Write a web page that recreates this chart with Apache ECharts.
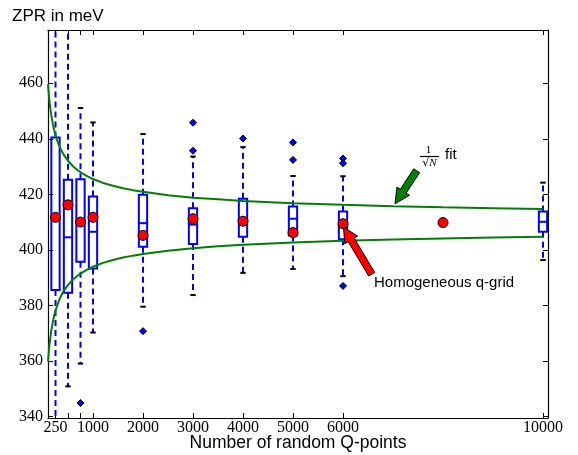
<!DOCTYPE html>
<html><head><meta charset="utf-8">
<script src="https://cdn.jsdelivr.net/npm/echarts@6/dist/echarts.min.js"></script>
<style>html,body{margin:0;padding:0;background:#fff}#c{width:578px;height:455px}</style>
</head><body><div id="c"></div>
<script>
// ---- data ----
const qPoints     = [250, 500, 750, 1000, 2000, 3000, 4000, 5000, 6000, 10000];
const whiskerLow  = [330.0, 350.8, 359.0, 370.2, 379.5, 383.7, 391.7, 393.1, 390.5, 396.3];
const quart1      = [385.5, 384.5, 395.7, 393.3, 401.1, 402.1, 404.7, 405.2, 403.8, 406.5];
const medians     = [411.5, 404.5, 410.0, 406.5, 409.6, 409.1, 410.3, 411.2, 409.4, 410.1];
const quart3      = [440.5, 425.2, 425.4, 419.2, 419.8, 415.0, 418.4, 415.6, 413.8, 413.8];
const whiskerHigh = [495.0, 490.0, 451.1, 445.9, 441.7, 433.6, 437.0, 426.6, 426.5, 424.2];

const outlierQ    = [750, 2000, 3000, 3000, 4000, 5000, 5000, 6000, 6000, 6000];
const outlierZPR  = [344.8, 370.7, 445.8, 435.7, 440.1, 438.7, 432.4, 432.9, 431.2, 387.0];

const meanQ       = [250, 500, 750, 1000, 2000, 3000, 4000, 5000, 6000];
const meanZPR     = [411.7, 416.2, 410.0, 411.7, 405.2, 411.2, 410.3, 406.2, 409.4];

const gridQ       = [8000];
const gridZPR     = [409.8];

const fitQ     = [100, 110, 120, 130, 140, 150, 165, 180, 200, 225, 250, 275, 300, 350, 400, 450, 500, 600, 700, 800, 900, 1000, 1200, 1400, 1600, 1800, 2000, 2500, 3000, 3500, 4000, 5000, 6000, 7000, 8000, 9000, 10000];
const fitUpper = [459.7, 457.4, 455.3, 453.6, 452.0, 450.5, 448.6, 447.0, 445.1, 443.0, 441.3, 439.9, 438.6, 436.4, 434.7, 433.3, 432.1, 430.1, 428.6, 427.4, 426.4, 425.5, 424.1, 423.1, 422.2, 421.5, 420.9, 419.7, 418.8, 418.2, 417.6, 416.8, 416.2, 415.7, 415.3, 415.0, 414.7];
const fitLower = [359.7, 362.0, 364.1, 365.9, 367.4, 368.9, 370.8, 372.4, 374.3, 376.4, 378.1, 379.5, 380.8, 383.0, 384.7, 386.1, 387.3, 389.3, 390.8, 392.0, 393.0, 393.9, 395.3, 396.3, 397.2, 397.9, 398.5, 399.7, 400.6, 401.3, 401.8, 402.6, 403.3, 403.7, 404.1, 404.4, 404.7];

const xTickValues = [250, 500, 750, 1000, 2000, 3000, 4000, 5000, 6000, 10000];
const xTickLabels = [250, 1000, 2000, 3000, 4000, 5000, 6000, 10000];
const yTickValues = [340, 360, 380, 400, 420, 440, 460];

// annotation arrows in data coordinates [from, to]
const fitArrow  = [[7474, 428.5], [7040, 416.6]];
const gridArrow = [[6574, 391.2], [6010, 408.2]];

// ---- chart ----
const BOX_W = 166, CAP_W = 108;
const BLUE = '#0000ff', GREEN = '#008000', RED = '#ff0000';
const chart = echarts.init(document.getElementById('c'), null, {renderer: 'canvas'});

function axisX(pos, labels) {
  return {
    type: 'value', min: 100, max: 10100, position: pos,
    axisLine: {show: true, onZero: false, lineStyle: {color: '#000', width: 1.2}},
    axisTick: {show: true, inside: true, length: 5, customValues: xTickValues, lineStyle: {color: '#000', width: 1}},
    axisLabel: labels ? {customValues: xTickLabels, formatter: v => String(v), fontFamily: 'Liberation Serif', fontSize: 16, color: '#000', margin: 2} : {show: false},
    splitLine: {show: false}
  };
}
function axisY(pos, labels) {
  return {
    type: 'value', min: 339.4, max: 479.2, position: pos,
    axisLine: {show: true, onZero: false, lineStyle: {color: '#000', width: 1.2}},
    axisTick: {show: true, inside: true, length: 5, customValues: yTickValues, lineStyle: {color: '#000', width: 1}},
    axisLabel: labels ? {customValues: yTickValues, formatter: v => String(v), fontFamily: 'Liberation Serif', fontSize: 16, color: '#000', margin: 5} : {show: false},
    splitLine: {show: false}
  };
}

function renderBox(params, api) {
  const x = api.value(0);
  const pLo = api.coord([x, api.value(1)]);
  const pQ1 = api.coord([x, api.value(2)]);
  const pMd = api.coord([x, api.value(3)]);
  const pQ3 = api.coord([x, api.value(4)]);
  const pHi = api.coord([x, api.value(5)]);
  const hw = api.size([BOX_W, 0])[0] / 2;
  const cw = api.size([CAP_W, 0])[0] / 2;
  const cx = pMd[0];
  const dash = {stroke: BLUE, lineWidth: 2, lineDash: [6, 4]};
  const cap = {stroke: '#000', lineWidth: 2};
  return {
    type: 'group',
    children: [
      {type: 'line', shape: {x1: cx, y1: pQ1[1], x2: cx, y2: pLo[1]}, style: dash},
      {type: 'line', shape: {x1: cx, y1: pQ3[1], x2: cx, y2: pHi[1]}, style: dash},
      {type: 'line', shape: {x1: cx - cw, y1: pLo[1], x2: cx + cw, y2: pLo[1]}, style: cap},
      {type: 'line', shape: {x1: cx - cw, y1: pHi[1], x2: cx + cw, y2: pHi[1]}, style: cap},
      {type: 'rect', shape: {x: cx - hw, y: pQ3[1], width: 2 * hw, height: pQ1[1] - pQ3[1]}, style: {stroke: BLUE, lineWidth: 2, fill: 'transparent'}},
      {type: 'line', shape: {x1: cx - hw, y1: pMd[1], x2: cx + hw, y2: pMd[1]}, style: {stroke: BLUE, lineWidth: 2}}
    ]
  };
}

const option = {
  animation: false,
  backgroundColor: '#fff',
  grid: {left: 48, right: 30, top: 30, bottom: 37, containLabel: false},
  xAxis: [axisX('bottom', true), axisX('top', false)],
  yAxis: [axisY('left', true), axisY('right', false)],
  series: [
    {
      type: 'custom', name: 'boxes', xAxisIndex: 0, yAxisIndex: 0, clip: true, z: 2,
      encode: {x: 0, y: [1, 2, 3, 4, 5]},
      data: qPoints.map((q, i) => [q, whiskerLow[i], quart1[i], medians[i], quart3[i], whiskerHigh[i]]),
      renderItem: renderBox
    },
    {
      type: 'line', name: 'fit+', z: 3, showSymbol: false, smooth: false,
      lineStyle: {color: GREEN, width: 2}, data: fitQ.map((q, i) => [q, fitUpper[i]])
    },
    {
      type: 'line', name: 'fit-', z: 3, showSymbol: false, smooth: false,
      lineStyle: {color: GREEN, width: 2}, data: fitQ.map((q, i) => [q, fitLower[i]])
    },
    {
      type: 'scatter', name: 'outliers', z: 4, symbol: 'diamond', symbolSize: 7,
      itemStyle: {color: BLUE, borderColor: '#000', borderWidth: 1, opacity: 1},
      data: outlierQ.map((q, i) => [q, outlierZPR[i]])
    },
    {
      type: 'scatter', name: 'mean', z: 5, symbol: 'circle', symbolSize: 10,
      itemStyle: {color: RED, borderColor: '#000', borderWidth: 1, opacity: 1},
      data: meanQ.map((q, i) => [q, meanZPR[i]])
    },
    {
      type: 'scatter', name: 'grid', z: 5, symbol: 'circle', symbolSize: 10,
      itemStyle: {color: RED, borderColor: '#000', borderWidth: 1, opacity: 1},
      data: gridQ.map((q, i) => [q, gridZPR[i]])
    }
  ]
};
chart.setOption(option);

function arrowPoints(t, h, shaftW, headW, headL) {
  const dx = h[0] - t[0], dy = h[1] - t[1];
  const L = Math.hypot(dx, dy), ux = dx / L, uy = dy / L, px = -uy, py = ux;
  const bx = h[0] - ux * headL, by = h[1] - uy * headL;
  return [
    [t[0] + px * shaftW / 2, t[1] + py * shaftW / 2],
    [bx + px * shaftW / 2, by + py * shaftW / 2],
    [bx + px * headW / 2, by + py * headW / 2],
    [h[0], h[1]],
    [bx - px * headW / 2, by - py * headW / 2],
    [bx - px * shaftW / 2, by - py * shaftW / 2],
    [t[0] - px * shaftW / 2, t[1] - py * shaftW / 2]
  ];
}
const toPx = p => chart.convertToPixel({gridIndex: 0}, p);
const gA = [toPx(fitArrow[0]), toPx(fitArrow[1])];
const rA = [toPx(gridArrow[0]), toPx(gridArrow[1])];

chart.setOption({
  graphic: [
    {type: 'text', x: 12, y: 16.5, z: 10, style: {text: 'ZPR in meV', fill: '#000', font: '17px "Liberation Sans", Arial, sans-serif', align: 'left', verticalAlign: 'middle'}},
    {type: 'text', x: 298, y: 443, z: 10, style: {text: 'Number of random Q-points', fill: '#000', font: '17.5px "Liberation Sans", Arial, sans-serif', align: 'center', verticalAlign: 'middle'}},
    {type: 'polygon', z: 20, shape: {points: arrowPoints(gA[0], gA[1], 7, 15, 15)}, style: {fill: GREEN, stroke: '#000', lineWidth: 1}},
    {type: 'polygon', z: 20, shape: {points: arrowPoints(rA[0], rA[1], 7, 15, 15)}, style: {fill: RED, stroke: '#000', lineWidth: 1}},
    {type: 'text', x: 428.5, y: 150, z: 10, style: {text: '1', fill: '#000', font: '11px "Liberation Serif", serif', align: 'center', verticalAlign: 'middle'}},
    {type: 'line', z: 10, shape: {x1: 420, y1: 156.5, x2: 439, y2: 156.5}, style: {stroke: '#000', lineWidth: 1.2}},
    {type: 'text', x: 429.5, y: 163, z: 10, style: {text: '{a|√}{b|N}', fill: '#000', align: 'center', verticalAlign: 'middle',
      rich: {a: {font: '11px "DejaVu Serif", serif', fill: '#000'}, b: {font: 'italic 11px "Liberation Serif", serif', fill: '#000'}}}},
    {type: 'text', x: 445, y: 154.5, z: 10, style: {text: 'fit', fill: '#000', font: '15px "Liberation Sans", Arial, sans-serif', align: 'left', verticalAlign: 'middle'}},
    {type: 'text', x: 374, y: 282.5, z: 10, style: {text: 'Homogeneous q-grid', fill: '#000', font: '15px "Liberation Sans", Arial, sans-serif', align: 'left', verticalAlign: 'middle'}}
  ]
});
</script></body></html>
